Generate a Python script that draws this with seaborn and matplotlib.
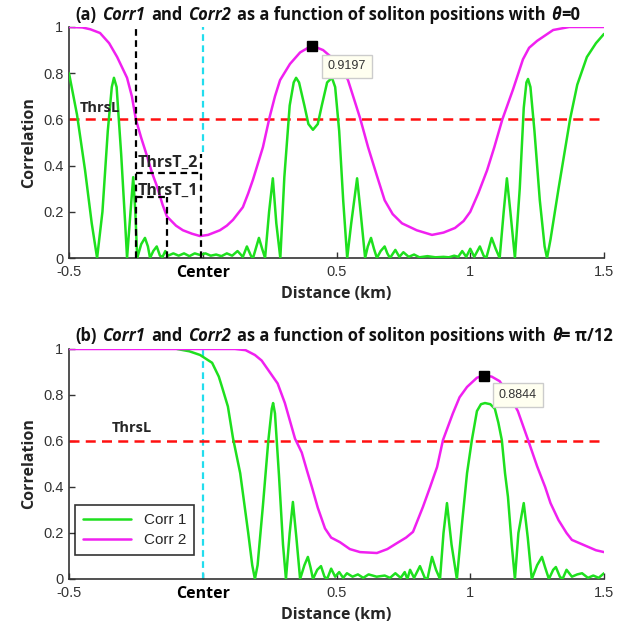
import numpy as np
import pandas as pd
import matplotlib
matplotlib.use("Agg")
import matplotlib.pyplot as plt
from matplotlib.offsetbox import TextArea, HPacker, AnchoredOffsetbox
import seaborn as sns

# ---------------- data ----------------
# (a) theta = 0
a_corr2_x = [-0.5, -0.45, -0.42, -0.384, -0.35, -0.32, -0.283, -0.265, -0.25, -0.23, -0.208, -0.19,
             -0.171, -0.15, -0.134, -0.10, -0.074, -0.04, -0.01, 0.02, 0.064, 0.09, 0.113, 0.15,
             0.17, 0.188, 0.225, 0.25, 0.27, 0.289, 0.326, 0.364, 0.408, 0.45, 0.49, 0.52, 0.543,
             0.565, 0.588, 0.618, 0.65, 0.68, 0.71, 0.745, 0.80, 0.857, 0.90, 0.943, 0.975, 1.0,
             1.03, 1.063, 1.09, 1.12, 1.16, 1.197, 1.22, 1.25, 1.31, 1.37, 1.5]
a_corr2_y = [1.0, 0.998, 0.99, 0.974, 0.93, 0.87, 0.78, 0.70, 0.60, 0.52, 0.44, 0.37,
             0.31, 0.23, 0.18, 0.14, 0.12, 0.105, 0.095, 0.10, 0.12, 0.14, 0.165, 0.22,
             0.28, 0.34, 0.48, 0.61, 0.70, 0.77, 0.84, 0.89, 0.9197, 0.90, 0.86, 0.82, 0.77,
             0.69, 0.606, 0.48, 0.36, 0.25, 0.19, 0.15, 0.12, 0.10, 0.11, 0.13, 0.16, 0.20,
             0.28, 0.38, 0.48, 0.60, 0.73, 0.86, 0.91, 0.94, 0.987, 1.0, 1.0]

a_corr1_x = [-0.5, -0.47, -0.44, -0.415, -0.395, -0.375, -0.355, -0.34, -0.332, -0.322, -0.305,
             -0.29, -0.283, -0.27, -0.26, -0.252, -0.245, -0.23, -0.216, -0.205, -0.197, -0.185,
             -0.172, -0.16, -0.15, -0.14, -0.13, -0.11, -0.09, -0.07, -0.05, -0.03, -0.01, 0.01,
             0.03, 0.05, 0.07, 0.09, 0.11, 0.13, 0.15, 0.165, 0.18, 0.188, 0.21, 0.222, 0.233,
             0.248, 0.262, 0.275, 0.29, 0.305, 0.325, 0.34, 0.349, 0.36, 0.38, 0.395, 0.412,
             0.43, 0.445, 0.465, 0.483, 0.495, 0.51, 0.525, 0.54, 0.555, 0.577, 0.59, 0.607,
             0.617, 0.629, 0.64, 0.651, 0.665, 0.68, 0.69, 0.70, 0.72, 0.735, 0.75, 0.77, 0.79,
             0.81, 0.84, 0.87, 0.90, 0.92, 0.94, 0.955, 0.97, 0.985, 1.0, 1.015, 1.036, 1.05,
             1.06, 1.08, 1.095, 1.11, 1.125, 1.137, 1.15, 1.167, 1.185, 1.2, 1.21, 1.216, 1.225,
             1.24, 1.26, 1.278, 1.287, 1.3, 1.33, 1.373, 1.40, 1.436, 1.47, 1.5]
a_corr1_y = [0.80, 0.62, 0.38, 0.15, 0.0, 0.2, 0.55, 0.74, 0.78, 0.74, 0.45,
             0.15, 0.0, 0.2, 0.35, 0.2, 0.0, 0.06, 0.087, 0.05, 0.0, 0.03,
             0.05, 0.01, 0.005, 0.03, 0.01, 0.02, 0.01, 0.02, 0.008, 0.02, 0.013, 0.02,
             0.01, 0.015, 0.008, 0.02, 0.01, 0.03, 0.005, 0.05, 0.01, 0.0, 0.087, 0.04, 0.0,
             0.2, 0.345, 0.15, 0.0, 0.35, 0.66, 0.76, 0.78, 0.76, 0.66, 0.58, 0.555,
             0.58, 0.66, 0.76, 0.78, 0.74, 0.55, 0.25, 0.0, 0.15, 0.345, 0.2, 0.0,
             0.05, 0.087, 0.04, 0.0, 0.03, 0.05, 0.02, 0.0, 0.035, 0.005, 0.025, 0.005, 0.015,
             0.003, 0.008, 0.003, 0.005, 0.003, 0.01, 0.005, 0.03, 0.005, 0.04, 0.005, 0.05, 0.01,
             0.0, 0.087, 0.04, 0.0, 0.2, 0.345, 0.2, 0.0, 0.3, 0.65, 0.76, 0.775, 0.74,
             0.55, 0.25, 0.05, 0.0, 0.08, 0.3, 0.6, 0.75, 0.87, 0.93, 0.97]

# (b) theta = pi/12
b_corr2_x = [-0.5, 0.12, 0.16, 0.195, 0.22, 0.244, 0.28, 0.307, 0.345, 0.37, 0.39, 0.408, 0.43,
             0.457, 0.48, 0.513, 0.55, 0.588, 0.651, 0.69, 0.726, 0.76, 0.786, 0.823, 0.85,
             0.876, 0.898, 0.935, 0.96, 0.988, 1.025, 1.05, 1.08, 1.11, 1.145, 1.178, 1.216,
             1.25, 1.28, 1.30, 1.33, 1.36, 1.38, 1.43, 1.47, 1.5]
b_corr2_y = [1.0, 1.0, 0.995, 0.974, 0.95, 0.91, 0.85, 0.765, 0.61, 0.55, 0.47, 0.40, 0.31,
             0.22, 0.18, 0.16, 0.13, 0.117, 0.113, 0.13, 0.156, 0.18, 0.205, 0.313, 0.40,
             0.487, 0.604, 0.72, 0.79, 0.835, 0.875, 0.8844, 0.88, 0.86, 0.80, 0.73, 0.605,
             0.49, 0.40, 0.33, 0.256, 0.20, 0.17, 0.145, 0.125, 0.117]

b_corr1_x = [-0.096, -0.05, -0.01, 0.035, 0.06, 0.072, 0.094, 0.113, 0.14, 0.155, 0.17, 0.185,
             0.195, 0.205, 0.225, 0.245, 0.258, 0.263, 0.27, 0.285, 0.30, 0.311, 0.325, 0.337,
             0.35, 0.364, 0.38, 0.393, 0.403, 0.412, 0.428, 0.442, 0.455, 0.465, 0.48, 0.495,
             0.51, 0.525, 0.539, 0.56, 0.58, 0.60, 0.62, 0.65, 0.68, 0.70, 0.72, 0.74, 0.755,
             0.765, 0.775, 0.79, 0.812, 0.83, 0.84, 0.857, 0.872, 0.887, 0.90, 0.913, 0.93,
             0.95, 0.97, 0.988, 1.006, 1.025, 1.04, 1.055, 1.075, 1.092, 1.105, 1.118, 1.13,
             1.141, 1.155, 1.167, 1.18, 1.20, 1.215, 1.23, 1.25, 1.268, 1.28, 1.294, 1.31,
             1.32, 1.335, 1.345, 1.36, 1.38, 1.40, 1.418, 1.44, 1.46, 1.48, 1.5]
b_corr1_y = [1.0, 0.99, 0.974, 0.94, 0.88, 0.835, 0.75, 0.613, 0.46, 0.33, 0.20, 0.06,
             0.0, 0.06, 0.32, 0.60, 0.74, 0.765, 0.72, 0.45, 0.15, 0.0, 0.2, 0.335,
             0.18, 0.0, 0.06, 0.096, 0.05, 0.0, 0.04, 0.056, 0.01, 0.0, 0.045, 0.01,
             0.03, 0.005, 0.025, 0.01, 0.02, 0.005, 0.02, 0.01, 0.015, 0.005, 0.025, 0.005, 0.03,
             0.0, 0.04, 0.005, 0.056, 0.005, 0.0, 0.096, 0.04, 0.0, 0.2, 0.33, 0.15,
             0.0, 0.25, 0.46, 0.604, 0.73, 0.76, 0.765, 0.76, 0.74, 0.68, 0.604, 0.46,
             0.357, 0.15, 0.0, 0.2, 0.33, 0.18, 0.0, 0.06, 0.096, 0.05, 0.0, 0.04,
             0.052, 0.01, 0.0, 0.04, 0.01, 0.02, 0.025, 0.005, 0.015, 0.005, 0.025]

peak_a = (0.408, 0.9197)
peak_b = (1.05, 0.8844)
thrs_L = 0.6
thrs_T1 = 0.265
thrs_T2 = 0.37
x_ticks = [-0.5, 0.0, 0.5, 1.0, 1.5]
x_ticklabels = ["-0.5", "Center", "0.5", "1", "1.5"]
y_ticks = [0, 0.2, 0.4, 0.6, 0.8, 1.0]
y_ticklabels = ["0", "0.2", "0.4", "0.6", "0.8", "1"]
# title words (groups separated by a space; inner tuples are glued without space)
title_a = [[("(a)", "normal")], [("Corr1", "italic")], [("and", "normal")], [("Corr2", "italic")],
           [("as a function of soliton positions with", "normal")],
           [("θ", "italic"), ("=0", "normal")]]
title_b = [[("(b)", "normal")], [("Corr1", "italic")], [("and", "normal")], [("Corr2", "italic")],
           [("as a function of soliton positions with", "normal")],
           [("θ", "italic"), ("= π/12", "normal")]]

# ---------------- styling ----------------
sns.set_theme(style="ticks")
plt.rcParams["font.family"] = ["Liberation Sans", "DejaVu Sans"]

GREEN = "#1ee01e"
MAGENTA = "#f020f0"
BOLD = ["Open Sans", "DejaVu Sans"]
TITLE_FS = 11.9

fig = plt.figure(figsize=(6.29, 6.32), dpi=100)
ax1 = fig.add_axes([69 / 629, 1 - 258 / 632, 535 / 629, 231 / 632])
ax2 = fig.add_axes([69 / 629, 1 - 579 / 632, 535 / 629, 230 / 632])

panels = [
    (ax1, a_corr1_x, a_corr1_y, a_corr2_x, a_corr2_y, peak_a),
    (ax2, b_corr1_x, b_corr1_y, b_corr2_x, b_corr2_y, peak_b),
]

for ax, c1x, c1y, c2x, c2y, peak in panels:
    d1 = pd.DataFrame({"x": c1x, "y": c1y})
    d2 = pd.DataFrame({"x": c2x, "y": c2y})
    sns.lineplot(data=d1, x="x", y="y", ax=ax, color=GREEN, lw=1.8, label="Corr 1",
                 sort=False, zorder=3)
    sns.lineplot(data=d2, x="x", y="y", ax=ax, color=MAGENTA, lw=1.8, label="Corr 2",
                 sort=False, zorder=3)
    ax.axhline(thrs_L, color="#ff1010", ls=(0, (4, 2.5)), lw=1.8, zorder=2)
    ax.plot([peak[0]], [peak[1]], marker="s", color="black", ms=7, zorder=5)
    ax.set_xlim(-0.5, 1.5)
    ax.set_ylim(0, 1)
    ax.set_xticks(x_ticks)
    ax.set_xticklabels(x_ticklabels)
    ax.set_yticks(y_ticks)
    ax.set_yticklabels(y_ticklabels)
    ax.tick_params(direction="in", length=4, width=1, labelsize=10.5, colors="#333333",
                   labelcolor="#333333")
    ax.tick_params(axis="x", pad=5)
    ax.tick_params(axis="y", pad=4)
    lbl = ax.get_xticklabels()[1]
    lbl.set_fontfamily(BOLD)
    lbl.set_fontweight("bold")
    lbl.set_fontsize(11.5)
    lbl.set_color("black")
    ax.set_xlabel("Distance (km)", fontfamily=BOLD, fontweight="bold", fontsize=11.5, labelpad=3.5)
    ax.set_ylabel("Correlation", fontfamily=BOLD, fontweight="bold", fontsize=11.5, labelpad=4)
    for s in ["left", "bottom"]:
        ax.spines[s].set_color("#333333")
        ax.spines[s].set_linewidth(1.2)
    sns.despine(ax=ax)


def make_title(groups, x_px, bottom_px):
    boxes = []
    for grp in groups:
        parts = [TextArea(t, textprops=dict(fontfamily=BOLD, fontweight="bold", fontstyle=st,
                                            fontsize=TITLE_FS, color="#111111"))
                 for t, st in grp]
        boxes.append(parts[0] if len(parts) == 1 else
                     HPacker(children=parts, align="baseline", pad=0, sep=0))
    pack = HPacker(children=boxes, align="baseline", pad=0, sep=4.3)
    anch = AnchoredOffsetbox(loc="lower left", child=pack, pad=0, borderpad=0, frameon=False,
                             bbox_to_anchor=(x_px / 629, 1 - bottom_px / 632),
                             bbox_transform=fig.transFigure)
    fig.add_artist(anch)


make_title(title_a, 75, 24)
make_title(title_b, 75, 345)

# panel (a) annotations
ax1.plot([0, 0], [0.46, 1.0], color="#22ddee", ls=(0, (3, 2)), lw=1.6, zorder=1)
ax1.plot([-0.25, -0.25], [0, 1.0], color="black", ls=(0, (3, 2)), lw=1.6, zorder=4)
ax1.plot([-0.134, -0.134], [0, thrs_T1], color="black", ls=(0, (3, 2)), lw=1.6, zorder=4)
ax1.plot([-0.005, -0.005], [0, 0.45], color="black", ls=(0, (3, 2)), lw=1.6, zorder=4)
ax1.plot([-0.25, -0.005], [thrs_T2, thrs_T2], color="black", ls=(0, (3, 2)), lw=1.6, zorder=4)
ax1.plot([-0.25, -0.134], [thrs_T1, thrs_T1], color="black", ls=(0, (3, 2)), lw=1.6, zorder=4)
ax1.text(-0.458, 0.65, "ThrsL", fontfamily=BOLD, fontweight="bold", fontsize=10.5,
         va="center", ha="left", zorder=6)
ax1.text(-0.243, 0.41, "ThrsT_2", fontfamily=BOLD, fontweight="bold", fontsize=11.5,
         va="center", ha="left", zorder=6)
ax1.text(-0.243, 0.29, "ThrsT_1", fontfamily=BOLD, fontweight="bold", fontsize=11.5,
         va="center", ha="left", zorder=6)
ax1.text(0.539, 0.83, f"{peak_a[1]:.4f}", fontsize=9, ha="center", va="center", color="#333333",
         bbox=dict(boxstyle="square,pad=0.45", fc="#fffff0", ec="#cccccc", lw=1), zorder=6)
ax1.get_legend().remove()

# panel (b) annotations
ax2.plot([0, 0], [0, 1.0], color="#22ddee", ls=(0, (3, 2)), lw=1.6, zorder=1)
ax2.text(-0.34, 0.655, "ThrsL", fontfamily=BOLD, fontweight="bold", fontsize=10.5,
         va="center", ha="left", zorder=6)
ax2.text(1.178, 0.80, f"{peak_b[1]:.4f}", fontsize=9, ha="center", va="center", color="#333333",
         bbox=dict(boxstyle="square,pad=0.45", fc="#fffff0", ec="#cccccc", lw=1), zorder=6)
leg = ax2.legend(loc="lower left", bbox_to_anchor=(0.011, 0.105), borderaxespad=0,
                 fontsize=11, frameon=True, fancybox=False, edgecolor="black",
                 handlelength=3.2, borderpad=0.5, labelspacing=0.4)
leg.get_frame().set_linewidth(1.2)

fig.savefig("out.png", dpi=100, facecolor="white")
